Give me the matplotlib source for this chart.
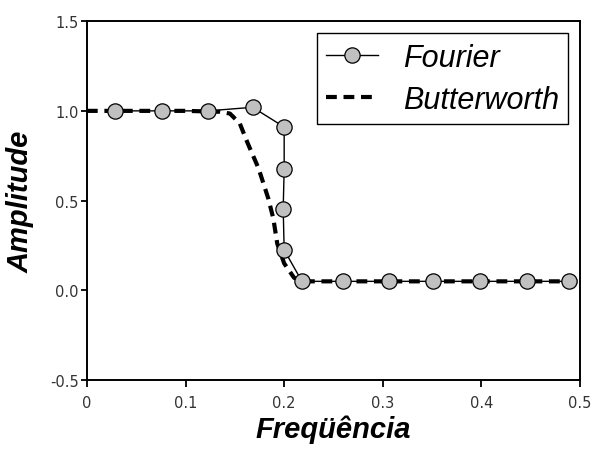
import numpy as np
import matplotlib.pyplot as plt

# Dados
freq_fourier = [0.029, 0.076, 0.123, 0.168, 0.200, 0.200, 0.199, 0.200, 0.218,
                0.260, 0.306, 0.351, 0.398, 0.446, 0.489]
amp_fourier = [1.0, 1.0, 1.0, 1.02, 0.91, 0.675, 0.455, 0.225, 0.05,
               0.05, 0.05, 0.05, 0.05, 0.05, 0.05]

freq_butter = [0.0, 0.10, 0.135, 0.145, 0.155, 0.163, 0.174, 0.184, 0.189,
               0.193, 0.200, 0.210, 0.220, 0.30, 0.40, 0.50]
amp_butter = [1.0, 1.0, 0.995, 0.985, 0.93, 0.82, 0.68, 0.51, 0.40,
              0.26, 0.15, 0.07, 0.05, 0.05, 0.05, 0.05]

x_ticks = [0, 0.1, 0.2, 0.3, 0.4, 0.5]
x_labels = ['0', '0.1', '0.2', '0.3', '0.4', '0.5']
y_ticks = [-0.5, 0.0, 0.5, 1.0, 1.5]
y_labels = ['-0.5', '0.0', '0.5', '1.0', '1.5']

fig = plt.figure(figsize=(5.95, 4.52), dpi=100)
ax = fig.add_axes([0.146, 0.157, 0.829, 0.794])

ax.plot(freq_butter, amp_butter, color='black', lw=3, dashes=(2.6, 1.6),
        label='Butterworth', zorder=2)
ax.plot(freq_fourier, amp_fourier, color='black', lw=1, marker='o',
        markersize=11, markerfacecolor='#c0c0c0', markeredgecolor='black',
        markeredgewidth=0.9, label='Fourier', zorder=3)

ax.set_xlim(0, 0.5)
ax.set_ylim(-0.5, 1.5)
ax.set_xticks(x_ticks)
ax.set_xticklabels(x_labels)
ax.set_yticks(y_ticks)
ax.set_yticklabels(y_labels)
ax.tick_params(axis='x', direction='out', length=5, width=1.3, labelsize=10.5,
               labelcolor='#333333', pad=6)
ax.tick_params(axis='y', direction='out', length=4, width=1.3, labelsize=10.5,
               labelcolor='#333333', pad=2)
for s in ax.spines.values():
    s.set_linewidth(1.4)

ax.set_xlabel('Freqüência', fontsize=21, fontstyle='italic', fontweight='bold',
              family='Liberation Sans', labelpad=3)
ax.set_ylabel('Amplitude', fontsize=21, fontstyle='italic', fontweight='bold',
              family='Liberation Sans', labelpad=11)

h, l = ax.get_legend_handles_labels()
leg = ax.legend(h[::-1], l[::-1], loc='upper right', borderaxespad=0.4,
                fancybox=False, framealpha=1, edgecolor='black', handlelength=1.7,
                prop={'family': 'Liberation Sans', 'style': 'italic', 'size': 22},
                borderpad=0.3, labelspacing=0.4, handletextpad=0.8)
leg.get_frame().set_linewidth(1.0)

fig.savefig('out.png', dpi=100)
